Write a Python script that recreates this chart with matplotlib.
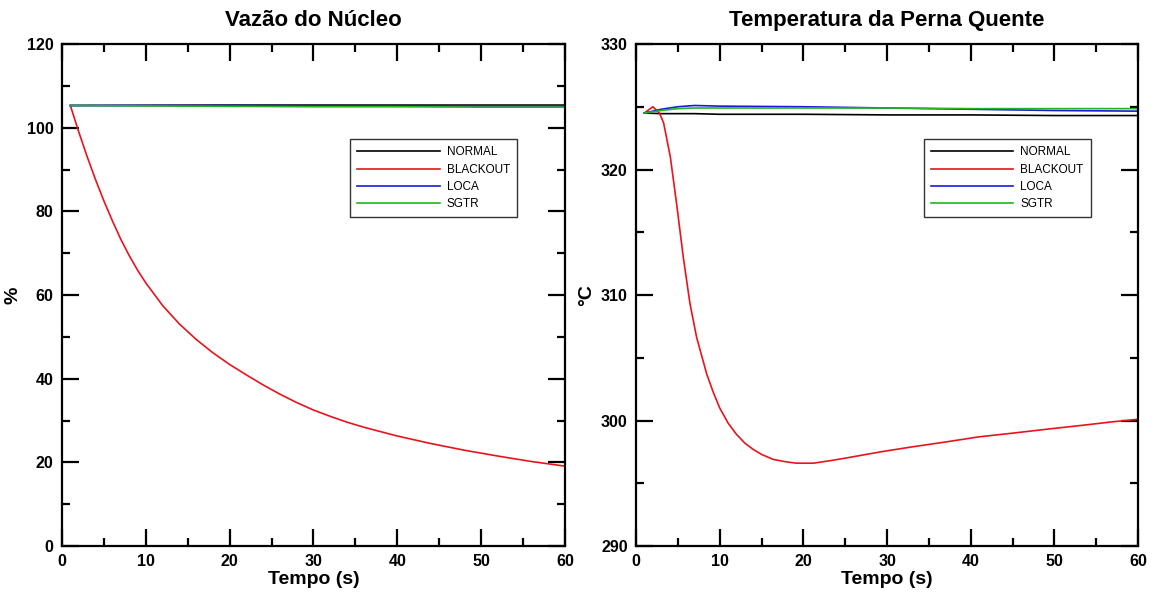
import matplotlib
matplotlib.use('Agg')
import matplotlib.pyplot as plt
from matplotlib.ticker import MultipleLocator

plt.rcParams['font.family'] = ['Liberation Sans', 'DejaVu Sans']

# ---- dados: Vazão do Núcleo (%) ----
t_flat = [1, 10, 20, 30, 40, 50, 60]
vazao_normal = [105.3, 105.35, 105.4, 105.4, 105.4, 105.4, 105.4]
vazao_loca = [105.3, 105.3, 105.3, 105.25, 105.2, 105.2, 105.2]
vazao_sgtr = [105.3, 105.2, 105.1, 105.0, 105.0, 104.9, 104.9]

t_blk_vazao = [1, 2, 3, 4, 5, 6, 7, 8, 9, 10, 12, 14, 16, 18, 20, 22, 24, 26, 28,
               30, 32, 34, 36, 40, 44, 48, 52, 56, 60]
vazao_blackout = [105.3, 99.0, 93.1, 87.6, 82.5, 77.8, 73.4, 69.5, 66.0, 62.9, 57.5,
                  53.1, 49.4, 46.2, 43.4, 40.9, 38.5, 36.3, 34.3, 32.5, 31.0, 29.6,
                  28.4, 26.3, 24.5, 22.9, 21.5, 20.2, 19.1]

# ---- dados: Temperatura da Perna Quente (°C) ----
t_temp = [1, 3, 5, 7, 10, 20, 30, 40, 50, 60]
temp_normal = [324.5, 324.45, 324.45, 324.45, 324.4, 324.4, 324.35, 324.35, 324.3, 324.3]
temp_loca = [324.5, 324.8, 325.0, 325.1, 325.05, 325.0, 324.9, 324.8, 324.7, 324.65]
temp_sgtr = [324.5, 324.7, 324.85, 324.9, 324.9, 324.9, 324.9, 324.85, 324.85, 324.85]

t_blk_temp = [1, 2.0, 2.8, 3.3, 4.1, 4.9, 5.65, 6.45, 7.25, 8.45, 9.2, 10.0, 11.0, 12.0,
              13.0, 14.0, 15.0, 16.4, 18.0, 19.2, 21.2, 23.2, 25.0, 29.2, 33.0, 37.1,
              41.0, 45.1, 49.0, 53.1, 57.0, 60]
temp_blackout = [324.5, 325.0, 324.5, 323.7, 321.0, 317.0, 313.0, 309.3, 306.6, 303.7,
                 302.3, 301.0, 299.8, 298.9, 298.2, 297.7, 297.3, 296.9, 296.7, 296.6,
                 296.6, 296.8, 297.0, 297.5, 297.9, 298.3, 298.7, 299.0, 299.3, 299.6,
                 299.9, 300.1]

cores = {'NORMAL': 'black', 'BLACKOUT': '#e8141c', 'LOCA': '#1a1ad6', 'SGTR': '#22b422'}

fig = plt.figure(figsize=(11.56, 5.97), dpi=100)
ax1 = fig.add_axes([0.0536, 0.0854, 0.4351, 0.8409])
ax2 = fig.add_axes([0.5502, 0.0854, 0.4343, 0.8409])


def estilo(ax, ylim, major, minor, titulo, ylabel):
    ax.set_xlim(0, 60)
    ax.set_ylim(*ylim)
    ax.xaxis.set_major_locator(MultipleLocator(10))
    ax.xaxis.set_minor_locator(MultipleLocator(5))
    ax.yaxis.set_major_locator(MultipleLocator(major))
    ax.yaxis.set_minor_locator(MultipleLocator(minor))
    ax.tick_params(which='both', direction='in', top=True, right=True, width=1.6,
                   labelsize=11.5, pad=6)
    ax.tick_params(which='major', length=12)
    ax.tick_params(which='minor', length=6)
    for lab in ax.get_xticklabels() + ax.get_yticklabels():
        lab.set_fontweight('bold')
    for s in ax.spines.values():
        s.set_linewidth(1.6)
    ax.set_title(titulo, fontsize=16, fontweight='bold', pad=13)
    ax.set_xlabel('Tempo (s)', fontsize=14, fontweight='bold', labelpad=1)
    ax.set_ylabel(ylabel, fontsize=14, fontweight='bold', labelpad=4)
    leg = ax.legend(loc='upper left', bbox_to_anchor=(0.561, 0.822), fontsize=8.5,
                    handlelength=7.0, handletextpad=0.6, labelspacing=0.45,
                    fancybox=False, framealpha=1, borderpad=0.6)
    leg.get_frame().set_edgecolor('#333333')
    leg.get_frame().set_linewidth(1.0)


lw = 1.2
ax1.plot(t_flat, vazao_normal, color=cores['NORMAL'], lw=lw, label='NORMAL')
ax1.plot(t_blk_vazao, vazao_blackout, color=cores['BLACKOUT'], lw=lw, label='BLACKOUT')
ax1.plot(t_flat, vazao_loca, color=cores['LOCA'], lw=lw, label='LOCA')
ax1.plot(t_flat, vazao_sgtr, color=cores['SGTR'], lw=lw, label='SGTR')
estilo(ax1, (0, 120), 20, 10, 'Vazão do Núcleo', '%')

ax2.plot(t_temp, temp_normal, color=cores['NORMAL'], lw=lw, label='NORMAL')
ax2.plot(t_blk_temp, temp_blackout, color=cores['BLACKOUT'], lw=lw, label='BLACKOUT')
ax2.plot(t_temp, temp_loca, color=cores['LOCA'], lw=lw, label='LOCA')
ax2.plot(t_temp, temp_sgtr, color=cores['SGTR'], lw=lw, label='SGTR')
estilo(ax2, (290, 330), 10, 5, 'Temperatura da Perna Quente', '°C')

fig.savefig('out.png', dpi=100)
